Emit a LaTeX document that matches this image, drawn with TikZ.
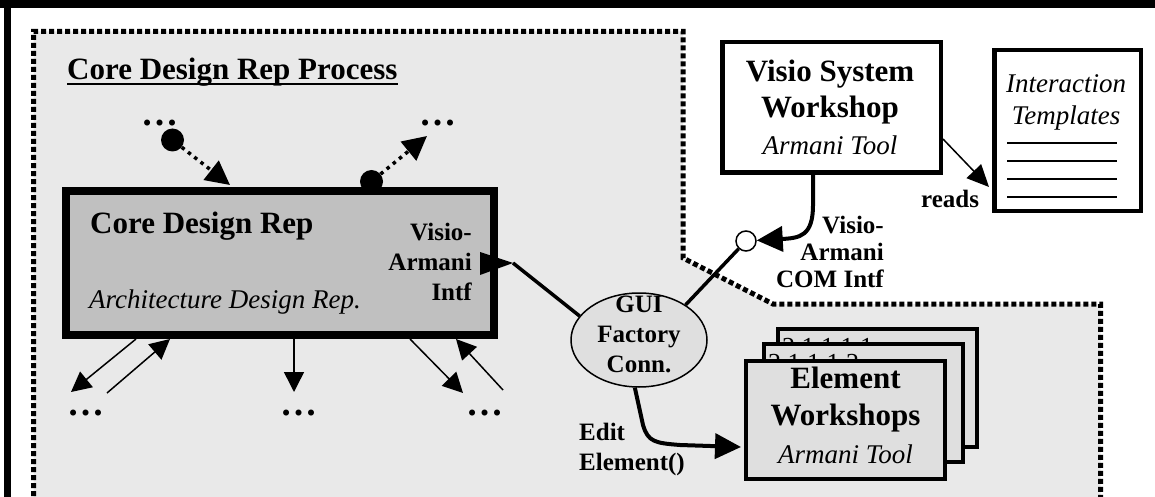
\documentclass[tikz,border=0pt]{standalone}
\usepackage{fontspec}
\setmainfont{Liberation Serif}
\usetikzlibrary{arrows.meta,shapes.geometric,calc}
\definecolor{bggray}{gray}{0.915}
\definecolor{coregray}{gray}{0.753}
\definecolor{cardgray}{gray}{0.875}
\begin{document}
\begin{tikzpicture}[x=1pt,y=-1pt,
  bigb/.style={font=\fontsize{31}{36}\selectfont\bfseries, inner sep=0pt},
  midb/.style={font=\fontsize{25}{30}\selectfont\bfseries, inner sep=0pt},
  ital/.style={font=\fontsize{27}{32}\selectfont\itshape, inner sep=0pt},
  numtxt/.style={font=\fontsize{26}{30}\selectfont, inner sep=0pt},
  dotstxt/.style={font=\fontsize{37}{40}\selectfont\bfseries, inner sep=0pt},
  boxw/.style={draw, line width=4.5pt, fill=white, inner sep=0pt},
  card/.style={draw, line width=4pt, fill=cardgray, inner sep=0pt, minimum width=199pt, minimum height=118pt},
  blob/.style={circle, fill=black, inner sep=0pt, minimum size=23pt},
  dotarrow/.style={line width=3.5pt, dash pattern=on 3.5pt off 4.5pt, -{Triangle[length=24pt,width=24pt]}},
  thinarrow/.style={line width=1.5pt, -{Triangle[length=20pt,width=20pt]}},
  thickarrow/.style={line width=4pt, -{Triangle[length=26pt,width=25pt]}},
  region/.style={line width=5pt, dash pattern=on 5pt off 3pt}
]
\useasboundingbox (0,0) rectangle (1155,497);
\clip (0,0) rectangle (1155,497);
% shaded process region
\fill[bggray] (33.5,520) -- (33.5,31.5) -- (683,31.5) -- (683,258) -- (773,304) -- (1100.5,304) -- (1100.5,520) -- cycle;
\draw[region] (33.5,520) -- (33.5,31.5) -- (683,31.5) -- (683,258) -- (773,304) -- (1100.5,304) -- (1100.5,520);
% outer frame
\fill[black] (0,0) rectangle (1155,8);
\fill[black] (4,0) rectangle (11,497);

% title
\node[bigb, anchor=base west] (title) at (67,80) {Core Design Rep Process};
\draw[line width=2pt] ($(title.base west)+(0,4)$) -- ($(title.base east)+(0,4)$);

% top dots and blobs
\node[dotstxt, anchor=base] (dtl) at (160,126) {…};
\node[dotstxt, anchor=base] (dtr) at (438,126) {…};
\node[blob] (blob1) at (172.5,140) {};
\node[blob] (blob2) at (371.5,181.5) {};

% core design rep box
\node[draw, line width=8pt, fill=coregray, inner sep=0pt, minimum width=428pt, minimum height=144pt] (core) at (280,263) {};
\node[bigb, anchor=base west] (coret) at (90,233) {Core Design Rep};
\node[ital, anchor=base west] (corei) at (89,308) {Architecture Design Rep.};
\node[midb, anchor=base east] (via1) at (472,240) {Visio-};
\node[midb, anchor=base east] (via2) at (472,270) {Armani};
\node[midb, anchor=base east] (via3) at (472,300) {Intf};

\coordinate (tipA) at (230,185);
\coordinate (tipB) at (427,136);
\draw[dotarrow] (blob1) -- (tipA);
\draw[dotarrow] (blob2) -- (tipB);

% lower arrows and dots
\coordinate (b1s) at (136,339); \coordinate (b1e) at (71,392);
\coordinate (b2s) at (107,393); \coordinate (b2e) at (170,339);
\coordinate (b3s) at (294,339); \coordinate (b3e) at (294,392);
\coordinate (b4s) at (410,339); \coordinate (b4e) at (463,393);
\coordinate (b5s) at (503,390); \coordinate (b5e) at (456,339);
\draw[thinarrow] (b1s) -- (b1e);
\draw[thinarrow] (b2s) -- (b2e);
\draw[thinarrow] (b3s) -- (b3e);
\draw[thinarrow] (b4s) -- (b4e);
\draw[thinarrow] (b5s) -- (b5e);
\node[dotstxt, anchor=base] (dbl) at (86,415) {…};
\node[dotstxt, anchor=base] (dbm) at (299,415) {…};
\node[dotstxt, anchor=base] (dbr) at (485,415) {…};

% Visio System Workshop
\node[boxw, minimum width=218.5pt, minimum height=130.5pt] (vis) at (831.5,107.5) {};
\node[bigb, anchor=base] (vis1) at (830,82) {Visio System};
\node[bigb, anchor=base] (vis2) at (830,118) {Workshop};
\node[ital, anchor=base] (vis3) at (830,155) {Armani Tool};

% Interaction templates
\node[boxw, minimum width=146.5pt, minimum height=160.5pt] (itpl) at (1067.5,130.5) {};
\node[ital, anchor=base] (itpl1) at (1066,93) {Interaction};
\node[ital, anchor=base] (itpl2) at (1066,125) {Templates};
\foreach \yy in {143,161,179,197} \draw[line width=2pt] (1007,\yy) -- (1117,\yy);

\coordinate (rS) at ($(vis.east)+(0,31.5)$);
\coordinate (rE) at (989,187);
\draw[line width=1.5pt, -{Triangle[length=22pt,width=20pt]}] (rS) -- (rE);
\node[midb, anchor=base west] (reads) at (921,207) {reads};

% element workshops stack
\node[card] (card1) at (877.5,387.5) {};
\node[numtxt, anchor=base west] (n1) at (782,355) {2.1.1.1.1};
\node[card] (card2) at (863.5,403) {};
\node[numtxt, anchor=base west] (n2) at (768,371) {2.1.1.1.2};
\node[card] (front) at (845.5,419.5) {};
\node[bigb, anchor=base] (el1) at (845.5,388) {Element};
\node[bigb, anchor=base] (el2) at (845.5,425) {Workshops};
\node[ital, anchor=base] (el3) at (845.5,463) {Armani Tool};

% GUI factory connector
\node[ellipse, draw, line width=1.5pt, fill=cardgray, inner sep=0pt, minimum width=136pt, minimum height=94pt] (gui) at (639,340) {};
\node[midb, anchor=base] (gui1) at (639,312) {GUI};
\node[midb, anchor=base] (gui2) at (639,342) {Factory};
\node[midb, anchor=base] (gui3) at (639,372) {Conn.};

% small interface circle
\node[circle, draw, line width=1.5pt, fill=white, inner sep=0pt, minimum size=20pt] (circ) at (746,241) {};

% connectors
\coordinate (vTip) at (513,263);
\draw[line width=3.5pt] (gui.158) -- (vTip);
\fill[black] (480,252) -- (vTip) -- (480,275) -- cycle;
\draw[line width=3.5pt] (gui.37) -- (circ);

\coordinate (vsb) at ($(vis.south)+(-18.5,0)$);
\draw[thickarrow] (vsb) -- (813,205) .. controls (813,236) and (800,238) .. (circ);

\coordinate (eEnd) at (741,447);
\draw[thickarrow] (gui.-95) -- (643,425) .. controls (648,442) and (655,443) .. (680,445) -- (eEnd);

\node[midb, anchor=base east] (com1) at (884,233) {Visio-};
\node[midb, anchor=base east] (com2) at (884,260) {Armani};
\node[midb, anchor=base east] (com3) at (884,287) {COM Intf};

\node[midb, anchor=base west] (ed1) at (579,440) {Edit};
\node[midb, anchor=base west] (ed2) at (579,470) {Element()};
\end{tikzpicture}
\end{document}
